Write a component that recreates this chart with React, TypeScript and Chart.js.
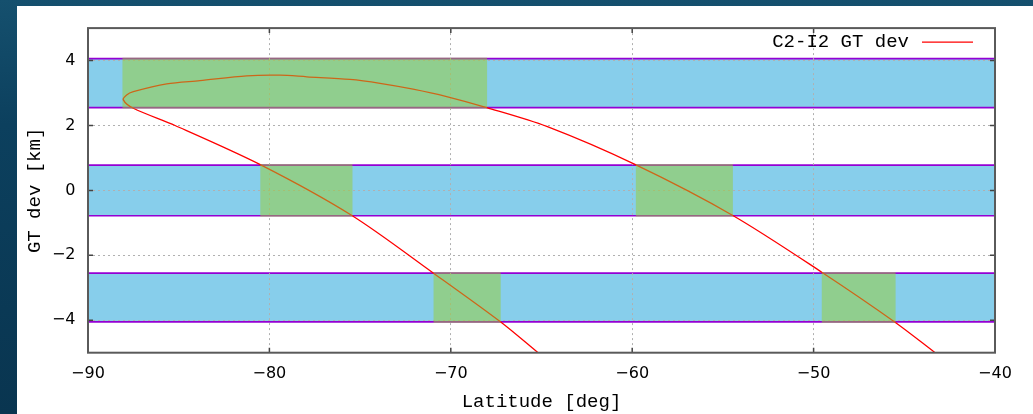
import { useEffect, useRef } from 'react';
import { Chart, registerables } from 'chart.js';

Chart.register(...registerables);

// Axis ticks
const X_TICKS = [-90, -80, -70, -60, -50, -40];
const Y_TICKS = [-4, -2, 0, 2, 4];

// Ground-track deviation along the pass (latitude [deg], deviation [km])
const SERIES_LABEL = 'C2-I2 GT dev';
const LATITUDE = [
  -65.19, -67.23, -70.95, -75.43, -80.45, -85.2, -87.5, -88.05, -87.87, -87.5,
  -85.66, -83.83, -81.25, -79.42, -77.94, -75.56, -73.9, -72.08, -70.23, -68.02,
  -64.71, -59.85, -54.43, -49.55, -45.51, -43.3,
];
const GT_DEV = [
  -5.0, -4.06, -2.55, -0.78, 0.78, 2.0, 2.53, 2.79, 2.94, 3.04,
  3.28, 3.38, 3.53, 3.55, 3.5, 3.42, 3.3, 3.12, 2.89, 2.55,
  1.97, 0.8, -0.78, -2.52, -4.06, -5.0,
];

// Tolerance bands [km]
const BAND_LOW = [2.55, -0.78, -4.05];
const BAND_HIGH = [4.06, 0.78, -2.55];

// Latitude spans where the track stays inside a band
const HIT_FROM = [-88.1, -80.5, -59.8, -70.95, -49.55];
const HIT_TO = [-68.0, -75.42, -54.45, -67.25, -45.48];
const HIT_BAND = [0, 1, 1, 2, 2];

const MONO = 'Liberation Mono';
const SANS = 'DejaVu Sans';

const minus = (v: number) => String(v).replace('-', '\u2212');

const bandsPlugin = {
  id: 'bands',
  beforeDraw(chart: any) {
    const { ctx, chartArea: a, scales } = chart;
    const y = scales.y;
    ctx.save();
    ctx.fillStyle = '#ffffff';
    ctx.fillRect(0, 0, chart.width, chart.height);
    for (let i = 0; i < BAND_LOW.length; i++) {
      const top = y.getPixelForValue(BAND_HIGH[i]);
      const bot = y.getPixelForValue(BAND_LOW[i]);
      ctx.fillStyle = '#87ceeb';
      ctx.fillRect(a.left, top, a.right - a.left, bot - top);
      ctx.strokeStyle = '#9400d3';
      ctx.lineWidth = 1.6;
      ctx.beginPath();
      ctx.moveTo(a.left, top);
      ctx.lineTo(a.right, top);
      ctx.moveTo(a.left, bot);
      ctx.lineTo(a.right, bot);
      ctx.stroke();
    }
    ctx.restore();
  },
  afterDatasetsDraw(chart: any) {
    const { ctx, scales } = chart;
    const { x, y } = scales;
    ctx.save();
    ctx.fillStyle = 'rgba(154, 205, 50, 0.5)';
    for (let i = 0; i < HIT_FROM.length; i++) {
      const b = HIT_BAND[i];
      const x0 = x.getPixelForValue(HIT_FROM[i]);
      const x1 = x.getPixelForValue(HIT_TO[i]);
      const y0 = y.getPixelForValue(BAND_HIGH[b]);
      const y1 = y.getPixelForValue(BAND_LOW[b]);
      ctx.fillRect(x0, y0 - 1, x1 - x0, y1 - y0 + 2);
    }
    ctx.restore();
  },
  afterDraw(chart: any) {
    const { ctx, chartArea: a, scales } = chart;
    const { x, y } = scales;
    ctx.save();
    // inward tick marks on all four sides
    ctx.strokeStyle = '#444';
    ctx.lineWidth = 1.5;
    ctx.beginPath();
    for (const t of X_TICKS) {
      const px = x.getPixelForValue(t);
      ctx.moveTo(px, a.bottom);
      ctx.lineTo(px, a.bottom - 5);
      ctx.moveTo(px, a.top);
      ctx.lineTo(px, a.top + 5);
    }
    for (const t of Y_TICKS) {
      const py = y.getPixelForValue(t);
      ctx.moveTo(a.left, py);
      ctx.lineTo(a.left + 5, py);
      ctx.moveTo(a.right, py);
      ctx.lineTo(a.right - 5, py);
    }
    ctx.stroke();
    // frame
    ctx.strokeStyle = '#5a5a5a';
    ctx.lineWidth = 2;
    ctx.strokeRect(a.left, a.top, a.right - a.left, a.bottom - a.top);
    // key
    const ly = a.top + 14;
    ctx.fillStyle = '#000';
    ctx.font = `19px "${MONO}"`;
    ctx.textAlign = 'right';
    ctx.textBaseline = 'middle';
    ctx.fillText(chart.data.datasets[0].label, a.right - 86, ly);
    ctx.strokeStyle = '#ff0000';
    ctx.lineWidth = 1.2;
    ctx.beginPath();
    ctx.moveTo(a.right - 73, ly);
    ctx.lineTo(a.right - 22, ly);
    ctx.stroke();
    ctx.restore();
  },
};

export default function App() {
  const canvasRef = useRef<HTMLCanvasElement>(null);

  useEffect(() => {
    if (!canvasRef.current) return;
    const chart = new Chart(canvasRef.current, {
      type: 'scatter',
      data: {
        datasets: [
          {
            label: SERIES_LABEL,
            data: LATITUDE.map((lat, i) => ({ x: lat, y: GT_DEV[i] })),
            showLine: true,
            borderColor: '#ff0000',
            borderWidth: 1.3,
            pointRadius: 0,
            tension: 0.3,
          },
        ],
      },
      plugins: [bandsPlugin],
      options: {
        animation: false,
        responsive: true,
        maintainAspectRatio: false,
        layout: { padding: { left: 0, top: 20, right: 38, bottom: 0 } },
        plugins: {
          legend: { display: false },
          tooltip: { enabled: false },
        },
        scales: {
          x: {
            type: 'linear',
            min: -90,
            max: -40,
            afterBuildTicks: (s: any) => {
              s.ticks = X_TICKS.map((v) => ({ value: v }));
            },
            afterFit: (s: any) => {
              s.height = 61.3;
            },
            grid: {
              color: '#b0b0b0',
              lineWidth: 1,
              drawTicks: false,
            },
            border: { display: false, dash: [2, 3] },
            ticks: {
              padding: 11.5,
              color: '#000',
              font: { family: SANS, size: 16 },
              callback: (v: any) => minus(v),
            },
            title: {
              display: true,
              text: 'Latitude [deg]',
              color: '#000',
              font: { family: MONO, size: 19 },
              padding: { top: 0, bottom: 1 },
            },
          },
          y: {
            type: 'linear',
            min: -5,
            max: 5,
            afterBuildTicks: (s: any) => {
              s.ticks = Y_TICKS.map((v) => ({ value: v }));
            },
            afterFit: (s: any) => {
              s.width = 71;
            },
            grid: {
              color: '#b0b0b0',
              lineWidth: 1,
              drawTicks: false,
            },
            border: { display: false, dash: [2, 3] },
            ticks: {
              padding: 12.5,
              color: '#000',
              font: { family: SANS, size: 16 },
              callback: (v: any) => minus(v),
            },
            title: {
              display: true,
              text: 'GT dev [km]',
              color: '#000',
              font: { family: MONO, size: 19 },
              padding: { top: 7, bottom: 0 },
            },
          },
        },
      },
    });
    return () => chart.destroy();
  }, []);

  return (
    <div
      style={{
        position: 'fixed',
        inset: 0,
        background: 'linear-gradient(180deg, #15506e 0%, #0c405e 30%, #093550 100%)',
      }}
    >
      <div
        style={{
          position: 'absolute',
          left: 17,
          top: 6,
          right: 0,
          bottom: 0,
          background: '#fff',
        }}
      >
        <canvas ref={canvasRef} />
      </div>
    </div>
  );
}
